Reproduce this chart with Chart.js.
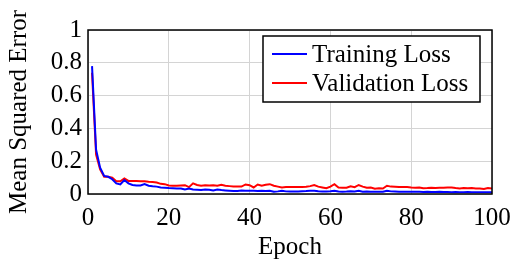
<!DOCTYPE html>
<html lang="en">
<head>
  <meta charset="UTF-8" />
  <title>Training vs Validation Loss</title>
  <script src="https://cdn.jsdelivr.net/npm/chart.js"></script>
  <style>
    * { margin: 0; padding: 0; box-sizing: border-box; }
    body { background: #fff; width: 520px; height: 266px; overflow: hidden; }
    canvas { display: block; }
  </style>
</head>
<body>
  <canvas id="lossChart" width="520" height="266"></canvas>

  <script>
    const xTicks = [0, 20, 40, 60, 80, 100];
    const yTicks = [0, 0.2, 0.4, 0.6, 0.8, 1];

    const trainingLoss = [
      0.78, 0.27, 0.16, 0.11, 0.105, 0.09, 0.065, 0.058, 0.085, 0.065,
      0.055, 0.052, 0.052, 0.06, 0.05, 0.047, 0.045, 0.04, 0.038, 0.036,
      0.035, 0.034, 0.034, 0.028, 0.033, 0.027, 0.026, 0.025, 0.028, 0.026,
      0.022, 0.028, 0.024, 0.022, 0.02, 0.018, 0.019, 0.022, 0.02, 0.02,
      0.02, 0.018, 0.02, 0.018, 0.02, 0.014, 0.016, 0.02, 0.016, 0.015,
      0.016, 0.016, 0.017, 0.018, 0.02, 0.02, 0.017, 0.016, 0.015, 0.017,
      0.02, 0.015, 0.014, 0.015, 0.017, 0.016, 0.02, 0.014, 0.015, 0.014,
      0.014, 0.013, 0.014, 0.02, 0.016, 0.015, 0.014, 0.013, 0.014, 0.014,
      0.013, 0.013, 0.012, 0.013, 0.012, 0.012, 0.013, 0.012, 0.012, 0.011,
      0.012, 0.011, 0.011, 0.012, 0.011, 0.01, 0.011, 0.01, 0.011, 0.01
    ];

    const validationLoss = [
      0.74, 0.24, 0.15, 0.105, 0.105, 0.1, 0.078, 0.078, 0.095, 0.08,
      0.08, 0.08, 0.078, 0.078, 0.075, 0.073, 0.07, 0.062, 0.06, 0.052,
      0.05, 0.05, 0.052, 0.054, 0.042, 0.065, 0.055, 0.05, 0.054, 0.052,
      0.053, 0.05, 0.056, 0.05, 0.048, 0.046, 0.045, 0.045, 0.058, 0.054,
      0.04, 0.058, 0.05, 0.056, 0.06, 0.05, 0.045, 0.04, 0.042, 0.043,
      0.042, 0.043, 0.043, 0.044, 0.048, 0.055, 0.045, 0.04, 0.035, 0.045,
      0.06, 0.04, 0.038, 0.038, 0.047, 0.042, 0.055, 0.045, 0.038, 0.04,
      0.032, 0.035, 0.033, 0.05, 0.045, 0.044, 0.043, 0.042, 0.043, 0.04,
      0.038, 0.039, 0.035, 0.036, 0.038, 0.037, 0.038, 0.038, 0.04, 0.039,
      0.036, 0.034, 0.036, 0.035, 0.036, 0.034, 0.033, 0.03, 0.036, 0.034
    ];

    const epochs = trainingLoss.map((_, i) => i + 1);

    const serif = "'Liberation Serif', 'DejaVu Serif', serif";

    // frame around the plot area plus a legend box inside the top right corner
    const frameAndLegend = {
      id: 'frameAndLegend',
      afterDraw(chart) {
        const { ctx, chartArea: a } = chart;
        ctx.save();
        ctx.strokeStyle = '#000';
        ctx.lineWidth = 1.5;
        ctx.strokeRect(a.left, a.top, a.right - a.left, a.bottom - a.top);

        const boxW = 217, boxH = 66;
        const bx = a.right - 12 - boxW, by = a.top + 6;
        ctx.fillStyle = '#fff';
        ctx.fillRect(bx, by, boxW, boxH);
        ctx.strokeRect(bx, by, boxW, boxH);

        ctx.font = '25px ' + serif;
        ctx.textBaseline = 'middle';
        chart.data.datasets.forEach((ds, i) => {
          const cy = by + 18 + i * 29;
          ctx.strokeStyle = ds.borderColor;
          ctx.lineWidth = 2;
          ctx.beginPath();
          ctx.moveTo(bx + 9, cy);
          ctx.lineTo(bx + 44, cy);
          ctx.stroke();
          ctx.fillStyle = '#000';
          ctx.fillText(ds.label, bx + 49, cy + 1);
        });
        ctx.restore();
      }
    };

    new Chart(document.getElementById('lossChart'), {
      type: 'line',
      data: {
        datasets: [
          {
            label: 'Training Loss',
            data: epochs.map((e, i) => ({ x: e, y: trainingLoss[i] })),
            borderColor: '#0000ff',
            borderWidth: 2,
            pointRadius: 0,
            tension: 0
          },
          {
            label: 'Validation Loss',
            data: epochs.map((e, i) => ({ x: e, y: validationLoss[i] })),
            borderColor: '#ff0000',
            borderWidth: 2,
            pointRadius: 0,
            tension: 0
          }
        ]
      },
      options: {
        responsive: false,
        animation: false,
        layout: { padding: { top: 30, right: 28, left: 0, bottom: 0 } },
        plugins: {
          legend: { display: false },
          tooltip: { enabled: false }
        },
        scales: {
          x: {
            type: 'linear',
            min: 0,
            max: 100,
            afterBuildTicks: s => { s.ticks = xTicks.map(v => ({ value: v })); },
            afterFit: s => { s.height = 72; },
            grid: { color: '#d4d4d4', drawTicks: false },
            border: { display: false },
            ticks: {
              color: '#000',
              padding: 9,
              autoSkip: false,
              maxRotation: 0,
              font: { family: serif, size: 25 }
            },
            title: {
              display: true,
              text: 'Epoch',
              color: '#000',
              padding: { top: 2 },
              font: { family: serif, size: 25 }
            }
          },
          y: {
            min: 0,
            max: 1,
            afterBuildTicks: s => { s.ticks = yTicks.map(v => ({ value: v })); },
            afterFit: s => { s.width = 88; },
            grid: { color: '#d4d4d4', drawTicks: false },
            border: { display: false },
            ticks: {
              color: '#000',
              padding: 6,
              autoSkip: false,
              font: { family: serif, size: 25 },
              callback: v => String(v)
            },
            title: {
              display: true,
              text: 'Mean Squared Error',
              color: '#000',
              padding: { bottom: 0 },
              font: { family: serif, size: 25 }
            }
          }
        }
      },
      plugins: [frameAndLegend]
    });
  </script>
</body>
</html>
